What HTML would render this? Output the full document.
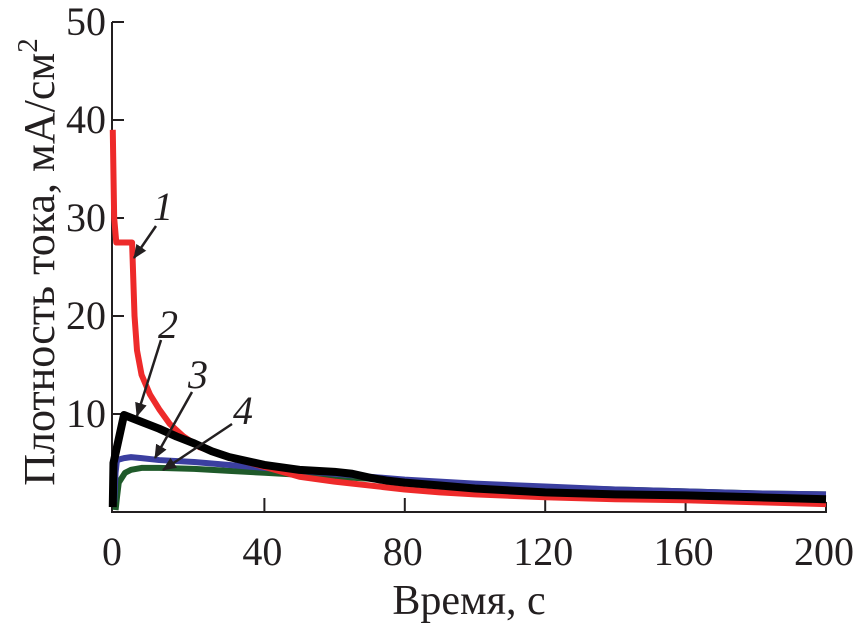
<!DOCTYPE html>
<html><head><meta charset="utf-8"><style>
body{margin:0;background:#fff}
svg{display:block}
text{font-family:"Liberation Serif",serif;fill:#231f20}
</style></head><body>
<svg width="855" height="628" id="chart">
<g id="axes"></g><g id="series"></g><g id="ann"></g>
</svg>
<script>
const xTicks=[0,40,80,120,160,200];
const yTicks=[10,20,30,40,50];
const t1=[-3.2,-2.8,-2.2,2.3,3,3.7,5,7.4,10,13,17,21.6,30,40,50,60,70,80,90,100,120,140,160,180,200];
const v1=[39,30,27.5,27.5,20,16.5,14,12,10.5,9,7.7,6.6,5.6,4.6,3.6,3.1,2.7,2.3,2,1.8,1.5,1.3,1.2,1,0.8];
const t2=[-3.2,-3,0,5,10,15,20,25,30,40,50,60,65,70,75,80,90,100,120,140,160,180,200];
const v2=[0.5,5,9.9,9.2,8.5,7.7,7,6.2,5.6,4.8,4.3,4.1,3.9,3.5,3.2,3,2.7,2.4,2,1.8,1.7,1.5,1.3];
const t3=[-2.8,-2.4,-2,0,2,5,10,20,30,40,50,60,70,80,100,120,140,160,180,200];
const v3=[1,4,5.3,5.5,5.6,5.5,5.3,5.1,4.8,4.5,4.2,3.9,3.6,3.3,2.9,2.6,2.3,2.1,1.9,1.8];
const t4=[-2.4,-2,-1.5,0.3,2,5,10,20,30,40,60,80,100,120,140,160,180,200];
const v4=[0.2,1.5,3,4,4.3,4.5,4.5,4.4,4.2,4,3.6,3.2,2.8,2.5,2.3,2.1,1.9,1.8];
const X=v=>124+v*3.51, Y=v=>512-v*9.8;
const NS="http://www.w3.org/2000/svg";
function mk(parent,tag,attrs){const e=document.createElementNS(NS,tag);for(const k in attrs)e.setAttribute(k,attrs[k]);parent.appendChild(e);return e;}
const ax=document.getElementById('axes');
let l=mk(ax,'polyline',{points:`112,${Y(50)} 112,512 ${X(200)},512 ${X(200)},502`,fill:'none',stroke:'#231f20','stroke-width':2});


xTicks.forEach(v=>{
 if(v>0&&v<200){const t=mk(ax,'line',{x1:X(v),x2:X(v),y1:512,y2:498,stroke:'#231f20','stroke-width':2});
 
 }
 const tx=mk(ax,'text',{x:v===0?112:X(v)-2,y:565,'font-size':40,'text-anchor':'middle'});tx.textContent=v;
 
 
});
yTicks.forEach(v=>{
 const t=mk(ax,'line',{x1:112,x2:124,y1:Y(v),y2:Y(v),stroke:'#231f20','stroke-width':2});
 
 
 const tx=mk(ax,'text',{x:106,y:Y(v)+13,'font-size':40,'text-anchor':'end'});tx.textContent=v;
 
 
});
const xt=mk(ax,'text',{x:469,y:614,'font-size':42,'text-anchor':'middle'});xt.textContent='Время, с';


const yt=mk(ax,'text',{x:0,y:0,'font-size':44,'text-anchor':'middle',transform:'translate(54,262) rotate(-90)'});
yt.innerHTML='Плотность тока, мА/см<tspan dy="-17" font-size="29">2</tspan>';


const sg=document.getElementById('series');
[[t4,v4,'#1f5a2a','series-4'],[t3,v3,'#3b3fa0','series-3'],[t1,v1,'#ee2a2a','series-1'],[t2,v2,'#000','series-2']].forEach(([t,v,c,n])=>{
 const p=mk(sg,'polyline',{points:t.map((x,i)=>X(x)+','+Y(v[i])).join(' '),fill:'none',stroke:c,'stroke-width':n==='series-2'?8:6,'stroke-linejoin':'round'});
 
 
});
const an=document.getElementById('ann');
mk(an,'defs',{}).innerHTML='<marker id="ah" markerWidth="14" markerHeight="12" refX="13" refY="6" orient="auto" markerUnits="userSpaceOnUse"><path d="M0,0 L14,6 L0,12 z" fill="#231f20"/></marker>';
const labs=[['1',163,220,156,226,134,258],['2',168,338,161,340,137,416],['3',198,388,192,392,155,458],['4',243,424,232,424,163,470]];
labs.forEach(([s,lx,ly,x1,y1,x2,y2])=>{
 const tx=mk(an,'text',{x:lx,y:ly,'font-size':40,'font-style':'italic','text-anchor':'middle'});tx.textContent=s;
 
 
 const a=mk(an,'line',{x1:x1,y1:y1,x2:x2,y2:y2,stroke:'#231f20','stroke-width':2.5,'marker-end':'url(#ah)'});
 
 
});
</script>
</body></html>
